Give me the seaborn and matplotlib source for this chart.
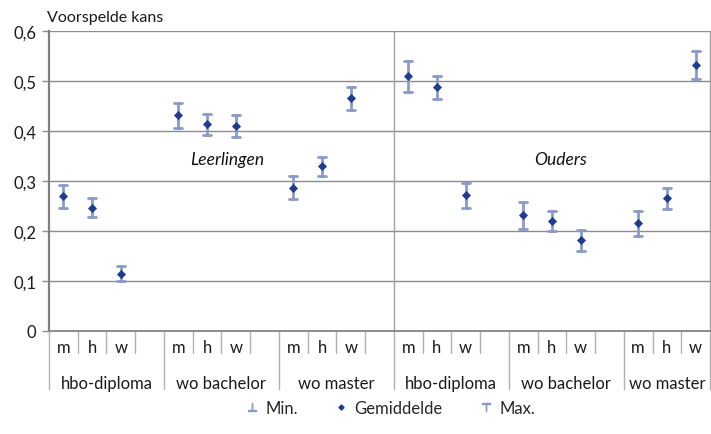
import matplotlib
matplotlib.use("Agg")
import matplotlib.pyplot as plt
from matplotlib.lines import Line2D
import seaborn as sns
import pandas as pd

# ---- data ----
panels = ["Leerlingen", "Ouders"]
groups = ["hbo-diploma", "wo bachelor", "wo master"]
subcats = ["m", "h", "w"]
y_ticks = [0, 0.1, 0.2, 0.3, 0.4, 0.5, 0.6]
y_tick_labels = ["0", "0,1", "0,2", "0,3", "0,4", "0,5", "0,6"]

# order: Leerlingen (hbo m,h,w; wo bachelor m,h,w; wo master m,h,w), then Ouders
mean_vals = [0.271, 0.247, 0.115, 0.432, 0.414, 0.411, 0.287, 0.330, 0.466,
             0.510, 0.489, 0.272, 0.232, 0.221, 0.183, 0.216, 0.267, 0.533]
min_vals = [0.246, 0.228, 0.101, 0.406, 0.392, 0.388, 0.264, 0.310, 0.442,
            0.479, 0.465, 0.247, 0.205, 0.201, 0.161, 0.191, 0.245, 0.505]
max_vals = [0.293, 0.267, 0.131, 0.456, 0.435, 0.433, 0.310, 0.348, 0.489,
            0.541, 0.511, 0.296, 0.258, 0.240, 0.203, 0.241, 0.286, 0.560]

# ---- build categorical order with blank slots ----
order = []
for p in panels:
    for gi, g in enumerate(groups):
        for s in subcats:
            order.append(f"{p}|{g}|{s}")
        if not (p == panels[-1] and gi == len(groups) - 1):
            order.append(f"{p}|{g}|gap")

rows = []
k = 0
for p in panels:
    for g in groups:
        for s in subcats:
            name = f"{p}|{g}|{s}"
            for v in (min_vals[k], mean_vals[k], max_vals[k]):
                rows.append({"cat": name, "value": v})
            k += 1
df = pd.DataFrame(rows)

sns.set_theme(style="white")
plt.rcParams["font.family"] = ["Lato", "DejaVu Sans"]

W, H = 711, 435
fig = plt.figure(figsize=(W / 100, H / 100), dpi=100)
ax = fig.add_axes([49 / W, 1 - 332 / H, (710 - 49) / W, 300 / H])

err_col = "#8a9bcb"
mean_col = "#1f3c8e"
grid_col = "#8c8c8c"

sns.pointplot(data=df, x="cat", y="value", order=order,
              estimator="median", errorbar=lambda v: (v.min(), v.max()),
              linestyle="none", markers="D", markersize=2.6, color=mean_col,
              capsize=0.27,
              err_kws={"color": err_col, "linewidth": 2.0, "zorder": 2},
              ax=ax)
for coll in ax.collections:
    coll.set_zorder(4)
for ln in ax.lines:
    if ln.get_marker() == "D":
        ln.set_zorder(5)

ax.set_xlim(-0.5, len(order) - 0.5)
ax.set_ylim(0, 0.6)
ax.set_yticks(y_ticks)
ax.set_yticklabels(y_tick_labels, fontsize=12, color="#1a1a1a")
ax.set_xticks([])
ax.set_xlabel("")
ax.set_ylabel("")
ax.tick_params(axis="y", length=5, width=1, color=grid_col, left=True, pad=4)

ax.spines["top"].set_visible(False)
ax.spines["left"].set_color("#808080")
ax.spines["left"].set_linewidth(1.6)
ax.spines["bottom"].set_color(grid_col)
ax.spines["bottom"].set_linewidth(1.4)
ax.spines["right"].set_color("#a0a0a0")
ax.spines["right"].set_linewidth(1.0)

for yv in y_ticks[1:]:
    ax.axhline(yv, color=grid_col, linewidth=1.0, zorder=0)

# divider between panels
divider_x = order.index(f"{panels[1]}|{groups[0]}|m") - 0.5
ax.axvline(divider_x, color="#a0a0a0", linewidth=1.0, zorder=0)

# panel labels
ax.text(5.7, 0.344, panels[0], style="italic", fontsize=12.5,
        ha="center", va="center", color="#111111")
ax.text(17.3, 0.344, panels[1], style="italic", fontsize=12.5,
        ha="center", va="center", color="#111111")

# category axis decorations below the plot
short_y = -0.044
long_y = -0.116
sub_y = -0.032
grp_y = -0.104
sep_col = "#b0b0b0"
for i, name in enumerate(order):
    p, g, s = name.split("|")
    if s != "gap":
        ax.text(i, sub_y, s, ha="center", va="center", fontsize=12,
                color="#1a1a1a", clip_on=False)
    xb = i + 0.5
    is_group_end = (s == "gap") or (i == len(order) - 1)
    ax.plot([xb, xb], [0, long_y if is_group_end else short_y],
            color=sep_col, linewidth=1.0, clip_on=False, zorder=1)
ax.plot([-0.5, -0.5], [0, long_y], color=sep_col, linewidth=1.0,
        clip_on=False, zorder=1)

# group labels
for p in panels:
    for g in groups:
        start = order.index(f"{p}|{g}|m") - 0.5
        if f"{p}|{g}|gap" in order:
            end = order.index(f"{p}|{g}|gap") + 0.5
        else:
            end = order.index(f"{p}|{g}|w") + 0.5
        ax.text((start + end) / 2, grp_y, g, ha="center", va="center",
                fontsize=12, color="#1a1a1a", clip_on=False)

# y label at the top
fig.text(47 / W, 1 - 18 / H, "Voorspelde kans", fontsize=11.5,
         ha="left", va="center", color="#1a1a1a")

# legend
handles = [
    Line2D([], [], linestyle="none", marker="$\\perp$", markersize=6,
           color=err_col),
    Line2D([], [], linestyle="none", marker="D", markersize=2.6,
           color=mean_col),
    Line2D([], [], linestyle="none", marker="$\\top$", markersize=6,
           color=err_col),
]
fig.legend(handles, ["Min.", "Gemiddelde", "Max."], loc="center",
           bbox_to_anchor=(390 / W, 1 - 409 / H), ncol=3, frameon=False,
           fontsize=12, handlelength=0.8, handletextpad=0.4,
           columnspacing=2.2)

fig.savefig("out.png", dpi=100)
